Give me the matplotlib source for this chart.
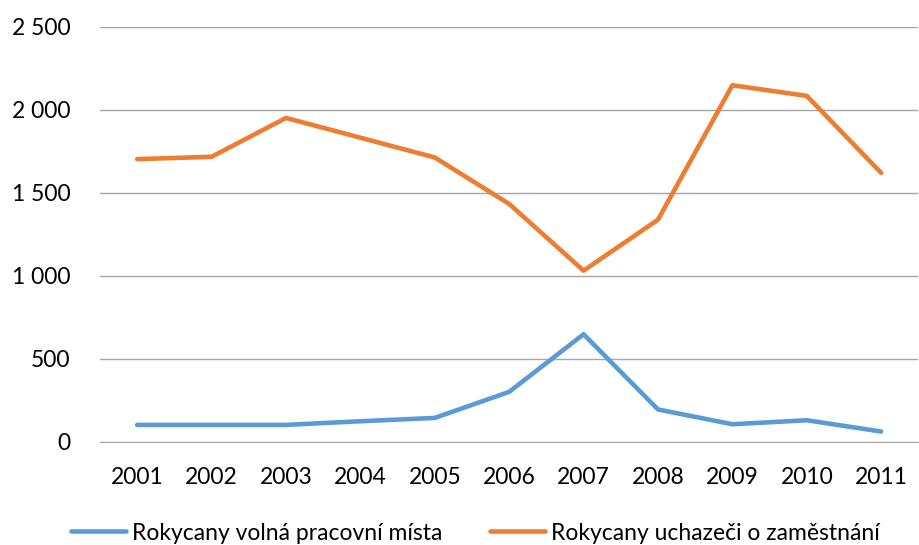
import matplotlib
matplotlib.use("Agg")
import matplotlib.pyplot as plt
from matplotlib.ticker import FuncFormatter

plt.rcParams['font.family'] = ['Lato', 'DejaVu Sans']

years = ["2001", "2002", "2003", "2004", "2005", "2006",
         "2007", "2008", "2009", "2010", "2011"]
volna_mista = [103, 103, 103, 125, 145, 302, 649, 196, 107, 131, 63]
uchazeci = [1704, 1718, 1952, 1833, 1714, 1434, 1032, 1339, 2149, 2085, 1621]

fig = plt.figure(figsize=(9.19, 5.45), dpi=100)
ax = fig.add_axes([0.1088, 0.189, 0.8905, 0.7615])

x = range(len(years))
ax.plot(x, volna_mista, color="#5B9BD5", linewidth=3.3, solid_capstyle="round",
        label="Rokycany volná pracovní místa")
ax.plot(x, uchazeci, color="#ED7D31", linewidth=3.3, solid_capstyle="round",
        label="Rokycany uchazeči o zaměstnání")

ax.set_xlim(-0.5, len(years) - 0.5)
ax.set_ylim(0, 2500)
ax.set_yticks([0, 500, 1000, 1500, 2000, 2500])
ax.yaxis.set_major_formatter(FuncFormatter(lambda v, p: format(int(v), ",").replace(",", " ")))
ax.set_xticks(list(x))
ax.set_xticklabels(years)

ax.grid(axis="y", color="#a6a6a6", linewidth=1)
ax.set_axisbelow(True)
for s in ["top", "right", "left"]:
    ax.spines[s].set_visible(False)
ax.spines["bottom"].set_color("#a6a6a6")
ax.tick_params(axis="both", length=0, labelsize=16.5, colors="black")
ax.tick_params(axis="y", pad=21.5)
ax.tick_params(axis="x", pad=18)

fig.legend(loc="center", bbox_to_anchor=(0.5174, 12 / 545), ncol=2, frameon=False,
           fontsize=16.5, handlelength=2.4, handletextpad=0.26, columnspacing=2.1,
           borderpad=0, borderaxespad=0)

fig.savefig("out.png", dpi=100)
